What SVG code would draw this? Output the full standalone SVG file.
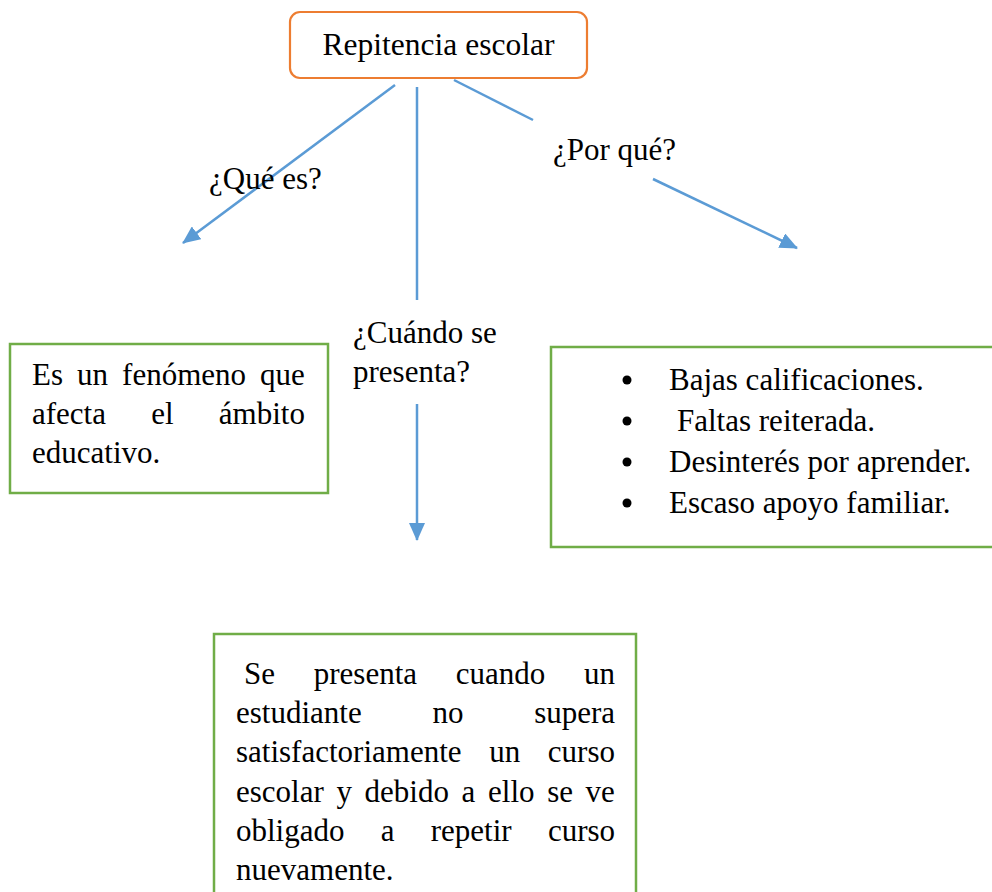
<svg xmlns="http://www.w3.org/2000/svg" width="992" height="892" viewBox="0 0 992 892">
<style>
text{font-family:"Liberation Serif","Times New Roman",serif;font-size:31px;fill:#000}
.box{fill:#fff;stroke:#70AD47;stroke-width:2.5}
.conn{stroke:#5B9BD5;stroke-width:2.5;fill:none}
</style>
<defs>
<marker id="arr" markerUnits="userSpaceOnUse" markerWidth="18" markerHeight="16" refX="17" refY="8" orient="auto">
<path d="M0,0 L18,8 L0,16 Z" fill="#5B9BD5"/>
</marker>
</defs>
<rect width="992" height="892" fill="#fff"/>
<g id="connectors">
<line class="conn" x1="395" y1="85" x2="183" y2="243" marker-end="url(#arr)"/>
<line class="conn" x1="417" y1="87" x2="417" y2="300"/>
<line class="conn" x1="417" y1="404" x2="417" y2="540" marker-end="url(#arr)"/>
<line class="conn" x1="454" y1="80" x2="533" y2="120"/>
<line class="conn" x1="653" y1="179" x2="797" y2="248" marker-end="url(#arr)"/>
</g>
<g id="title">
<rect x="290" y="12" width="297" height="66" rx="10" fill="#fff" stroke="#ED7D31" stroke-width="2.2"/>
<text x="438.5" y="55" text-anchor="middle" style="font-size:31.5px">Repitencia escolar</text>
</g>
<g id="label-que">
<text x="209" y="189">¿Qué es?</text>
</g>
<g id="label-porque">
<text x="553" y="160">¿Por qué?</text>
</g>
<g id="label-cuando">
<text x="353" y="343">¿Cuándo se</text>
<text x="353" y="382">presenta?</text>
</g>
<g id="que-es">
<rect class="box" x="10" y="344" width="318" height="149"/>
<text x="32" y="385" word-spacing="6.3">Es un fenómeno que</text>
<text x="32" y="424" word-spacing="37.5">afecta el ámbito</text>
<text x="32" y="463">educativo.</text>
</g>
<g id="por-que">
<rect class="box" x="551" y="347" width="460" height="200"/>
<circle cx="627" cy="380" r="4.5"/>
<circle cx="627" cy="421" r="4.5"/>
<circle cx="627" cy="462" r="4.5"/>
<circle cx="627" cy="503" r="4.5"/>
<text x="669" y="390">Bajas calificaciones.</text>
<text x="677" y="431">Faltas reiterada.</text>
<text x="669" y="472">Desinterés por aprender.</text>
<text x="669" y="513">Escaso apoyo familiar.</text>
</g>
<g id="cuando">
<rect class="box" x="214" y="634" width="422" height="270"/>
<text x="244" y="684" word-spacing="31">Se presenta cuando un</text>
<text x="236" y="723" word-spacing="63">estudiante no supera</text>
<text x="236" y="762" word-spacing="19.9">satisfactoriamente un curso</text>
<text x="236" y="802" word-spacing="4.9">escolar y debido a ello se ve</text>
<text x="236" y="841" word-spacing="28.5">obligado a repetir curso</text>
<text x="236" y="880">nuevamente.</text>
</g>
</svg>
